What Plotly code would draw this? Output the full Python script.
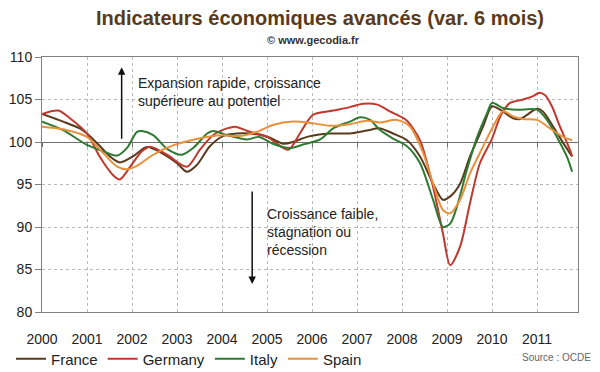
import plotly.graph_objects as go

# ---- data (decimal years, index values) ----
france_t = [2000.0, 2000.47, 2000.84, 2001.0, 2001.29, 2001.51, 2001.73, 2002.02, 2002.33, 2002.69,
            2003.0, 2003.22, 2003.44, 2003.73, 2004.02, 2004.33, 2004.78, 2005.07, 2005.36, 2005.58,
            2005.89, 2006.4, 2006.84, 2007.22, 2007.51, 2007.8, 2008.11, 2008.4, 2008.69, 2008.91,
            2009.07, 2009.29, 2009.51, 2009.8, 2010.0, 2010.18, 2010.47, 2010.62, 2011.0, 2011.13,
            2011.36, 2011.58, 2011.78]
france_v = [103.3, 102.4, 101.6, 101.0, 99.5, 98.3, 97.6, 98.3, 99.4, 98.6,
            97.5, 96.5, 97.3, 99.5, 100.7, 101.0, 100.9, 100.5, 99.8, 100.0,
            100.6, 101.0, 101.0, 101.35, 101.6, 101.0, 100.2, 98.3, 95.1, 93.2,
            93.6, 95.1, 98.3, 101.8, 104.2, 103.8, 102.8, 102.7, 103.9, 103.6,
            101.8, 99.9, 98.3]

germany_t = [2000.0, 2000.36, 2000.62, 2001.0, 2001.29, 2001.58, 2001.73, 2001.96, 2002.22, 2002.4,
             2002.78, 2003.22, 2003.51, 2003.8, 2004.11, 2004.3, 2004.56, 2005.0, 2005.47, 2005.73,
             2006.02, 2006.47, 2006.84, 2007.13, 2007.45, 2007.73, 2007.96, 2008.11, 2008.4, 2008.69,
             2008.91, 2009.07, 2009.29, 2009.51, 2009.73, 2010.0, 2010.2, 2010.4, 2010.69, 2010.91,
             2011.05, 2011.18, 2011.33, 2011.51, 2011.73, 2011.78]
germany_v = [103.3, 103.7, 102.8, 101.0, 98.2, 96.1, 95.6, 97.1, 98.9, 99.45,
             98.5, 97.1, 99.1, 100.8, 101.6, 101.8, 101.3, 100.6, 99.1, 101.0,
             103.2, 103.7, 104.1, 104.5, 104.4, 103.6, 103.0, 102.5, 100.2, 94.7,
             89.2, 85.5, 87.7, 92.8, 97.5, 100.4, 103.2, 104.6, 105.0, 105.4,
             105.8, 105.5, 104.2, 101.8, 99.1, 98.3]

italy_t = [2000.0, 2000.47, 2001.0, 2001.36, 2001.67, 2001.89, 2002.11, 2002.22, 2002.47, 2002.78,
           2003.1, 2003.36, 2003.67, 2003.8, 2004.11, 2004.56, 2004.82, 2005.13, 2005.51, 2005.8,
           2006.18, 2006.47, 2006.84, 2007.07, 2007.29, 2007.51, 2007.8, 2008.11, 2008.4, 2008.69,
           2008.91, 2009.07, 2009.22, 2009.44, 2009.67, 2009.89, 2010.0, 2010.24, 2010.56, 2011.0,
           2011.22, 2011.44, 2011.67, 2011.78]
italy_v = [102.4, 101.4, 99.65, 98.9, 98.4, 99.3, 101.2, 101.3, 100.8, 99.2,
           98.5, 99.3, 101.0, 101.3, 100.8, 100.3, 100.6, 99.8, 99.3, 99.7,
           100.3, 101.6, 102.4, 102.9, 102.6, 101.4, 100.4, 99.5, 97.5, 93.2,
           90.0, 90.4, 92.4, 96.7, 100.6, 103.4, 104.6, 104.0, 103.8, 103.8,
           102.6, 100.6, 98.2, 96.5]

spain_t = [2000.0, 2000.47, 2001.0, 2001.36, 2001.67, 2001.89, 2002.11, 2002.47, 2002.91, 2003.51,
           2004.0, 2004.4, 2004.78, 2005.13, 2005.58, 2006.02, 2006.4, 2006.84, 2007.22, 2007.51,
           2007.89, 2008.18, 2008.47, 2008.69, 2008.91, 2009.07, 2009.29, 2009.51, 2009.73, 2010.02,
           2010.24, 2010.47, 2010.69, 2011.0, 2011.29, 2011.58, 2011.78]
spain_v = [101.8, 101.5, 100.6, 98.7, 97.1, 96.8, 97.2, 98.5, 99.6, 100.45,
           100.8, 100.7, 101.2, 102.0, 102.4, 102.2, 101.9, 102.1, 102.5, 102.3,
           102.6, 101.8, 98.7, 95.1, 92.0, 91.6, 93.2, 96.3, 98.7, 101.8,
           103.6, 103.0, 102.7, 102.6, 101.6, 100.6, 100.2]

year_ticks = list(range(2000, 2012))
year_labels = [str(y) for y in year_ticks]
y_ticks = [80, 85, 90, 95, 100, 105, 110]

series = [
    ("France", france_t, france_v, "#5a3b1e"),
    ("Germany", germany_t, germany_v, "#c0392e"),
    ("Italy", italy_t, italy_v, "#2f7a33"),
    ("Spain", spain_t, spain_v, "#e8913a"),
]

FONT = "Liberation Sans, Arial, sans-serif"
# the page body adds an 8px offset; the figure is sized to the remaining viewport
OFF = 8
W, H = 600 - OFF, 372 - OFF
PLOT_X0, PLOT_X1, PLOT_Y0, PLOT_Y1 = 42, 578, 57, 312   # target screen pixels
L, T = PLOT_X0 - OFF, PLOT_Y0 - OFF
R, B = W - (PLOT_X1 - OFF), H - (PLOT_Y1 - OFF)
PW, PH = PLOT_X1 - PLOT_X0, PLOT_Y1 - PLOT_Y0


def sx(px):
    return (px - PLOT_X0) / PW


def sy(py):
    return (PLOT_Y1 - py) / PH


fig = go.Figure()
for name, t, v, c in series:
    fig.add_trace(go.Scatter(x=t, y=v, name=name, mode="lines",
                             line=dict(color=c, width=2, shape="spline", smoothing=0.8)))

X_RANGE = [2000, 2011.91]
fig.update_layout(
    width=W, height=H,
    margin=dict(l=L, r=R, t=T, b=B, autoexpand=False),
    paper_bgcolor="white", plot_bgcolor="white",
    font=dict(family=FONT, size=14, color="#222"),
    title=dict(text="<b>Indicateurs économiques avancés (var. 6 mois)</b>",
               font=dict(family=FONT, size=20, color="#5a3a1a"),
               x=(320 - OFF) / W, xanchor="center", y=1 - (18 - OFF) / H, yanchor="middle"),
    showlegend=True,
    legend=dict(orientation="h", x=sx(11), y=sy(359),
                xanchor="left", yanchor="middle",
                font=dict(family=FONT, size=15, color="#222"), itemwidth=30,
                bgcolor="rgba(0,0,0,0)"),
    xaxis=dict(range=X_RANGE, tickmode="array", tickvals=year_ticks, ticktext=year_labels,
               showgrid=True, gridcolor="#b8b8b8", griddash="dot", gridwidth=1,
               showline=True, linecolor="#808080", linewidth=1, mirror=True,
               ticks="", ticklabelstandoff=14, zeroline=False,
               tickfont=dict(size=14, color="#222")),
    xaxis2=dict(range=X_RANGE, overlaying="x", anchor="free", position=20 / 30,
                tickmode="array", tickvals=year_ticks, showticklabels=False,
                ticks="outside", ticklen=4, tickcolor="#707070",
                showline=True, linecolor="#707070", linewidth=1, showgrid=False,
                zeroline=False, layer="below traces"),
    yaxis=dict(range=[80, 110], tickmode="array", tickvals=y_ticks,
               showgrid=True, gridcolor="#b8b8b8", griddash="dot", gridwidth=1,
               showline=True, linecolor="#808080", linewidth=1, mirror=True,
               ticks="outside", ticklen=6, tickcolor="#808080", zeroline=False,
               tickfont=dict(size=14, color="#222")),
)
# invisible helper trace so the 100-level axis (xaxis2) is drawn
fig.add_trace(go.Scatter(x=[2000], y=[100], xaxis="x2", yaxis="y", mode="lines",
                         showlegend=False, hoverinfo="skip", line=dict(width=0)))

fig.add_annotation(text="<b>© www.gecodia.fr</b>", xref="paper", yref="paper",
                   x=sx(313), y=sy(40), xanchor="center", yanchor="middle",
                   showarrow=False, font=dict(family=FONT, size=11, color="#333"))
fig.add_annotation(text="Source : OCDE", xref="paper", yref="paper",
                   x=sx(593), y=sy(357), xanchor="right", yanchor="middle",
                   showarrow=False, font=dict(family=FONT, size=10, color="#666"))
fig.add_annotation(text="Expansion rapide, croissance<br>supérieure au potentiel",
                   x=2002.09, y=105.9, xref="x", yref="y", xanchor="left", yanchor="middle",
                   align="left", showarrow=False, font=dict(family=FONT, size=14, color="#222"))
fig.add_annotation(text="Croissance faible,<br>stagnation ou<br>récession",
                   x=2004.96, y=89.4, xref="x", yref="y", xanchor="left", yanchor="middle",
                   align="left", showarrow=False, font=dict(family=FONT, size=14, color="#222"))
fig.add_annotation(text="", x=2001.77, y=108.8, ax=2001.77, ay=100.2, xref="x", yref="y",
                   axref="x", ayref="y", showarrow=True, arrowhead=2, arrowsize=1,
                   arrowwidth=1.5, arrowcolor="#111")
fig.add_annotation(text="", x=2004.67, y=83.3, ax=2004.67, ay=94.35, xref="x", yref="y",
                   axref="x", ayref="y", showarrow=True, arrowhead=2, arrowsize=1,
                   arrowwidth=1.5, arrowcolor="#111")

fig.write_html("out.html")
